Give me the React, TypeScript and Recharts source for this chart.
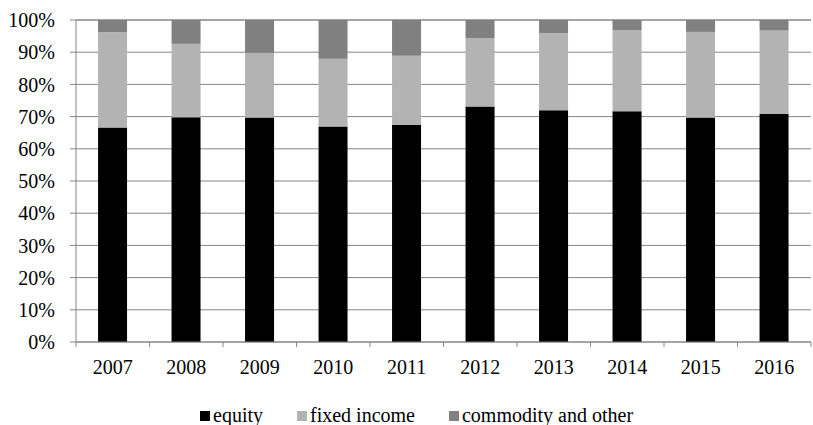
import React from 'react';
import { BarChart, Bar, XAxis, YAxis, CartesianGrid } from 'recharts';

const years = ['2007', '2008', '2009', '2010', '2011', '2012', '2013', '2014', '2015', '2016'];
const equity = [66.6, 69.8, 69.7, 66.9, 67.4, 73.1, 72.0, 71.7, 69.7, 70.8];
const fixedIncome = [29.6, 22.8, 20.1, 21.1, 21.5, 21.3, 23.9, 25.2, 26.6, 25.9];
const commodity = [3.8, 7.4, 10.2, 12.0, 11.1, 5.6, 4.1, 3.1, 3.7, 3.3];
const yTicks = [0, 10, 20, 30, 40, 50, 60, 70, 80, 90, 100];

const series = [
    { key: 'equity', name: 'equity', color: '#000000' },
    { key: 'fixedIncome', name: 'fixed income', color: '#b3b3b3' },
    { key: 'commodity', name: 'commodity and other', color: '#808080' },
];

const data = years.map((year, i) => ({
    year,
    equity: equity[i],
    fixedIncome: fixedIncome[i],
    commodity: commodity[i],
}));

const FONT = '"Liberation Serif", "Times New Roman", serif';
const GRID = '#868686';

// category ticks sit on the band boundaries, like Excel
const CategoryTick = (props: any) => {
    const { x, y, payload, index, visibleTicksCount, width } = props;
    const half = payload && payload.offset ? payload.offset : width / visibleTicksCount / 2;
    const last = index === visibleTicksCount - 1;
    return (
        <g>
            <line x1={x - half} x2={x - half} y1={y} y2={y + 5} stroke={GRID} />
            {last && <line x1={x + half} x2={x + half} y1={y} y2={y + 5} stroke={GRID} />}
            <text x={x} y={y + 18} dy="0.71em" textAnchor="middle" fill="#000" fontSize={20} fontFamily={FONT}>
                {payload.value}
            </text>
        </g>
    );
};

const PercentTick = (props: any) => {
    const { x, y, payload } = props;
    return (
        <text x={x} y={y} dy="0.355em" textAnchor="end" fill="#000" fontSize={20} fontFamily={FONT}>
            {`${payload.value}%`}
        </text>
    );
};

export default function App() {
    return (
        <div style={{ position: 'absolute', left: 0, top: 0, width: 813, height: 425, background: '#fff', fontFamily: FONT }}>
            <BarChart
                width={813}
                height={425}
                data={data}
                barCategoryGap="30%"
                margin={{ top: 20, right: 2, left: 0, bottom: 53 }}
            >
                <CartesianGrid vertical={false} stroke={GRID} />
                <XAxis
                    dataKey="year"
                    height={30}
                    axisLine={{ stroke: GRID }}
                    tickLine={false}
                    tickSize={0}
                    tickMargin={0}
                    interval={0}
                    tick={<CategoryTick />}
                />
                <YAxis
                    width={76}
                    domain={[0, 100]}
                    ticks={yTicks}
                    interval={0}
                    axisLine={{ stroke: GRID }}
                    tickLine={{ stroke: GRID }}
                    tickSize={6}
                    tickMargin={15}
                    tick={<PercentTick />}
                />
                {series.map((s) => (
                    <Bar key={s.key} dataKey={s.key} name={s.name} stackId="a" fill={s.color} isAnimationActive={false} />
                ))}
            </BarChart>
            <div
                style={{
                    position: 'absolute',
                    left: 200,
                    top: 404,
                    display: 'flex',
                    alignItems: 'center',
                    fontFamily: FONT,
                    fontSize: 20,
                    lineHeight: '23px',
                    color: '#000',
                }}
            >
                {series.map((s) => (
                    <div key={s.key} style={{ display: 'flex', alignItems: 'center', marginRight: 34 }}>
                        <span style={{ display: 'inline-block', width: 10, height: 10, background: s.color, marginRight: 3 }} />
                        <span>{s.name}</span>
                    </div>
                ))}
            </div>
        </div>
    );
}
